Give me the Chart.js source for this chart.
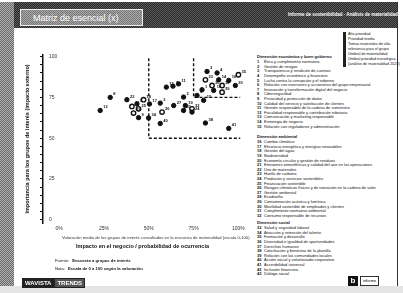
<!DOCTYPE html>
<html>
<head>
<meta charset="utf-8">
<script src="https://cdn.jsdelivr.net/npm/chart.js@4"></script>
<style>
    body { margin: 0; width: 403px; height: 293px; overflow: hidden; background: #fff; position: relative; font-family: "Liberation Sans", Arial, sans-serif; color: #111; }
    .abs { position: absolute; }
    #topBand { left: 0; top: 2px; width: 398px; height: 26px; background: repeating-conic-gradient(#2a2a2a 0 25%, #5a5a5a 0 50%) 0 0/2px 2px; }
    #leftBand { left: 0; top: 2px; width: 14px; height: 284px; background: repeating-conic-gradient(#6a6a6a 0 25%, #b0b0b0 0 50%) 0 0/2px 2px; }
    #rightLine { left: 397px; top: 2px; width: 1px; height: 284px; background: #333; }
    #bottomBand { left: 0; top: 286px; width: 403px; height: 7px; background: #e4e4e4; }
    #titleBox { left: 20px; top: 9px; width: 123px; height: 17px; border: 1px solid #eee; background: repeating-conic-gradient(#777 0 25%, #a8a8a8 0 50%) 0 0/2px 2px; color: #fff; font-size: 9px; line-height: 16px; padding-left: 12px; box-sizing: border-box; }
    #topRight { left: 288px; top: 12px; font-size: 4.5px; color: #fff; font-weight: bold; white-space: nowrap; }
    #chartBox { left: 15px; top: 40px; width: 240px; height: 215px; }
    #xNote { left: 62px; top: 235px; font-size: 4.2px; color: #333; white-space: nowrap; }
    .list { font-size: 4px; line-height: 4.6px; white-space: nowrap; }
    .list .h { font-weight: bold; margin-bottom: 0.6px; }
    .list .n { display: inline-block; width: 7px; font-weight: bold; }
    #keyBox { left: 343px; top: 32px; font-size: 3.8px; line-height: 5px; white-space: nowrap; border-left: 3px solid #222; padding-left: 2px; }
    .foot { font-size: 4.2px; white-space: nowrap; }
    .foot b { margin-left: 3px; }
    #logoL { left: 22px; top: 278px; height: 10px; display: flex; font-size: 6px; font-weight: bold; line-height: 10px; }
    #logoL span:first-child { background: #222; color: #fff; padding: 0 3px; }
    #logoL span:last-child { border: 1px solid #222; background: #555; color: #fff; padding: 0 2px; line-height: 8px; }
    #logoR { left: 348px; top: 276px; height: 10px; display: flex; font-size: 4px; line-height: 8px; }
    #logoR span:first-child { background: #111; color: #fff; width: 10px; text-align: center; font-size: 8px; font-weight: bold; line-height: 10px; }
    #logoR span:last-child { border: 1px solid #333; margin-left: 2px; padding: 0 2px; }
</style>
</head>
<body>
<div id="topBand" class="abs"></div>
<div id="leftBand" class="abs"></div>
<div id="rightLine" class="abs"></div>
<div id="bottomBand" class="abs"></div>
<div id="titleBox" class="abs">Matriz de esencial (x)</div>
<div id="topRight" class="abs">Informe de sostenibilidad · Análisis de materialidad 2023</div>

<div id="chartBox" class="abs"><canvas id="matrizChart"></canvas></div>
<div id="xNote" class="abs">Valoración media de los grupos de interés consultados en la encuesta de materialidad (escala 0-100)</div>

<div id="keyBox" class="abs list"></div>
<div id="sec1" class="abs list" style="left:257px;top:55px"></div>
<div id="sec2" class="abs list" style="left:257px;top:135px"></div>
<div id="sec3" class="abs list" style="left:257px;top:221px"></div>

<div class="abs foot" style="left:55px;top:258px">Fuente:<b>Encuesta a grupos de interés</b></div>
<div class="abs foot" style="left:55px;top:266px">Nota:<b>Escala de 0 a 100 según la valoración</b></div>
<div id="logoL" class="abs"><span>WAVISTA</span><span>TRENDS</span></div>
<div id="logoR" class="abs"><span>b</span><span>informe</span></div>

<script>
// temas: impacto en el negocio (x) / importancia para grupos de interés (y)
const temasX = [22.9, 28.5, 37.8, 43.4, 44.3, 50.4, 49.9, 56.4, 56.4, 59.8, 63.5, 66.6, 63.9, 69.4, 70.4, 69.4, 74.1, 76.9, 79.7, 80.6, 82.5, 86.2, 88.1, 89.0, 94.6, 98.3, 94.6, 81.6];
const temasY = [67.0, 75.0, 73.6, 71.0, 62.6, 71.0, 62.4, 71.5, 59.0, 81.3, 81.9, 83.3, 70.0, 75.2, 70.0, 67.0, 66.0, 76.2, 79.7, 73.2, 90.9, 79.3, 90.0, 85.8, 85.4, 82.3, 56.0, 59.3];
const temasId = ['12', '8', '22', '5', '9', '17', '34', '3', '40', '15', '7', '11', '27', '2', '19', '31', '24', '6', '1', '13', '3', '10', '4', '14', '16', '20', '41', '38'];

const claveX = [40.6, 44.3, 41.5, 47.1, 57.4, 74.1, 81.6, 85.3, 90.9, 90.9, 100];
const claveY = [69.5, 68.0, 65.4, 73.6, 66.0, 68.0, 85.8, 82.3, 82.3, 78.2, 88.9];
const claveId = ['21', '25', '28', '18', '26', '32', '23', '30', '36', '39', '35'];

const umbralX = [50, 75];
const umbralY = [50, 75];

const xTicks = [0, 25, 50, 75, 100];
const yTicks = [0, 25, 50, 75, 100];

const keyItems = ['Alta prioridad', 'Prioridad media', 'Temas materiales de alta', 'relevancia para el grupo', 'Umbral de materialidad', 'Umbral prioridad estratégica', '(análisis de materialidad 2023)'];

const sec1Title = 'Dimensión económica y buen gobierno';
const sec1Items = ['Ética y cumplimiento normativo', 'Gestión de riesgos', 'Transparencia y rendición de cuentas', 'Desempeño económico y financiero', 'Lucha contra la corrupción y el soborno', 'Relación con inversores y accionistas del grupo empresarial', 'Innovación y transformación digital del negocio', 'Ciberseguridad', 'Privacidad y protección de datos', 'Calidad del servicio y satisfacción de clientes', 'Gestión responsable de la cadena de suministro', 'Fiscalidad responsable y contribución tributaria', 'Comunicación y marketing responsable', 'Estrategia de negocio', 'Relación con reguladores y administración'];
const sec2Title = 'Dimensión ambiental';
const sec2Items = ['Cambio climático', 'Eficiencia energética y energías renovables', 'Gestión del agua', 'Biodiversidad', 'Economía circular y gestión de residuos', 'Emisiones atmosféricas y calidad del aire en las operaciones', 'Uso de materiales', 'Huella de carbono', 'Productos y servicios sostenibles', 'Financiación sostenible', 'Riesgos climáticos físicos y de transición en la cadena de valor', 'Gestión ambiental', 'Ecodiseño', 'Contaminación acústica y lumínica', 'Movilidad sostenible de empleados y clientes', 'Cumplimiento normativo ambiental', 'Consumo responsable de recursos'];
const sec3Title = 'Dimensión social';
const sec3Items = ['Salud y seguridad laboral', 'Atracción y retención del talento', 'Formación y desarrollo', 'Diversidad e igualdad de oportunidades', 'Derechos humanos', 'Conciliación y bienestar de la plantilla', 'Relación con las comunidades locales', 'Acción social y voluntariado corporativo', 'Accesibilidad universal', 'Inclusión financiera', 'Diálogo social'];

function fillList(id, title, items, start) {
    const el = document.getElementById(id);
    let html = title ? '<div class="h">' + title + '</div>' : '';
    items.forEach((t, i) => {
        html += start ? '<div><span class="n">' + (start + i) + '</span>' + t + '</div>' : '<div>' + t + '</div>';
    });
    el.innerHTML = html;
}
fillList('keyBox', '', keyItems, 0);
fillList('sec1', sec1Title, sec1Items, 1);
fillList('sec2', sec2Title, sec2Items, 1 + sec1Items.length);
fillList('sec3', sec3Title, sec3Items, 1 + sec1Items.length + sec2Items.length);

const toPoints = (xs, ys) => xs.map((x, i) => ({ x: x, y: ys[i] }));
const boxLine = (i) => [{ x: umbralX[i], y: 99 }, { x: umbralX[i], y: umbralY[i] }, { x: 101, y: umbralY[i] }];

const etiquetas = {
    id: 'etiquetas',
    afterDatasetsDraw(chart) {
        const ctx = chart.ctx;
        ctx.save();
        ctx.font = 'bold 4px "Liberation Sans", Arial';
        ctx.fillStyle = '#111';
        [[0, temasId], [1, claveId]].forEach(([d, ids]) => {
            chart.getDatasetMeta(d).data.forEach((p, i) => {
                ctx.fillText(ids[i], p.x + 3, p.y - 2);
            });
        });
        ctx.restore();
    }
};

new Chart(document.getElementById('matrizChart'), {
    type: 'scatter',
    data: {
        datasets: [{
            label: 'Temas',
            data: toPoints(temasX, temasY),
            backgroundColor: '#111',
            borderColor: '#111',
            pointRadius: 2.2
        }, {
            label: 'Temas clave',
            data: toPoints(claveX, claveY),
            backgroundColor: '#fff',
            borderColor: '#111',
            borderWidth: 1.4,
            pointRadius: 2.2
        }, {
            type: 'line',
            label: 'Umbral de materialidad',
            data: boxLine(0),
            borderColor: '#111',
            borderWidth: 1.4,
            borderDash: [3, 2],
            pointRadius: 0,
            fill: false
        }, {
            type: 'line',
            label: 'Umbral prioridad',
            data: boxLine(1),
            borderColor: '#111',
            borderWidth: 1.4,
            borderDash: [3, 2],
            pointRadius: 0,
            fill: false
        }]
    },
    options: {
        responsive: true,
        maintainAspectRatio: false,
        animation: false,
        layout: { padding: { top: 15, right: 13, left: 0, bottom: 0 } },
        plugins: { legend: { display: false }, tooltip: { enabled: false } },
        scales: {
            x: {
                type: 'linear',
                min: -9,
                max: 102,
                afterBuildTicks: (s) => { s.ticks = xTicks.map(v => ({ value: v })); },
                afterFit: (s) => { s.height = 32; },
                grid: { display: false, drawTicks: false },
                border: { display: false },
                ticks: { font: { size: 5 }, color: '#333', padding: 3, autoSkip: false, maxRotation: 0, callback: (v) => v + '%' },
                title: {
                    display: true,
                    text: 'Impacto en el negocio / probabilidad de ocurrencia',
                    font: { size: 5.5, weight: 'bold' },
                    color: '#111',
                    padding: { top: 0, bottom: 5 }
                }
            },
            y: {
                min: -2,
                max: 101,
                afterBuildTicks: (s) => {
                    const t = [];
                    for (let v = 0; v <= 100; v += 5) t.push({ value: v });
                    s.ticks = t;
                },
                afterFit: (s) => { s.width = 28; },
                grid: { display: true, drawOnChartArea: false, drawTicks: true, tickLength: 3, color: '#111' },
                border: { display: true, color: '#111', width: 1.5 },
                ticks: { mirror: true, padding: 6, autoSkip: false, font: { size: 5 }, color: '#333', callback: (v) => yTicks.includes(v) ? v : '' },
                title: {
                    display: true,
                    text: 'Importancia para los grupos de interés (impacto externo)',
                    font: { size: 5.5, weight: 'bold' },
                    color: '#111',
                    padding: { top: 9, bottom: 0 }
                }
            }
        }
    },
    plugins: [etiquetas]
});
</script>
</body>
</html>
